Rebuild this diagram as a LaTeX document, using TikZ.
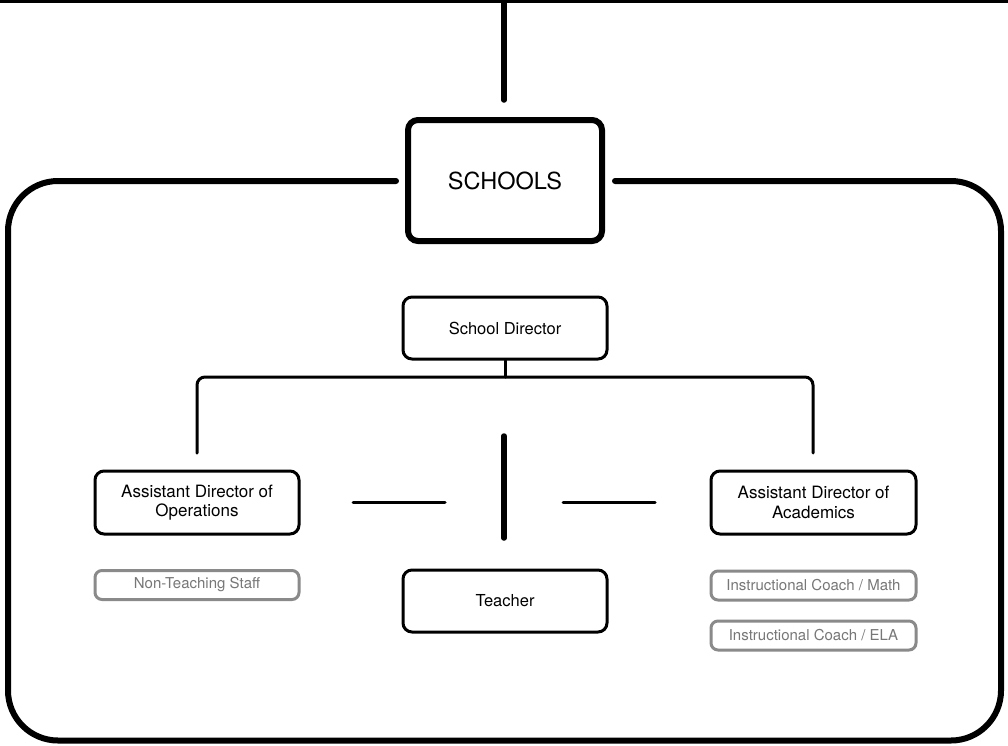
\documentclass[tikz,border=0pt]{standalone}
\usepackage{fontspec}
\setmainfont{TeX Gyre Heros}
\usetikzlibrary{positioning}
\definecolor{staffgray}{HTML}{8A8A8A}
\definecolor{stafftext}{HTML}{777777}

\begin{document}
\begin{tikzpicture}[x=1pt,y=-1pt,line cap=round,
  unit/.style={draw,line width=6pt,rounded corners=10pt,minimum width=194pt,minimum height=121pt,inner sep=0pt,font=\fontsize{23.5}{28}\selectfont},
  role/.style={draw,line width=3pt,rounded corners=9pt,minimum width=204pt,minimum height=62pt,inner sep=0pt,align=center,font=\fontsize{16.5}{20}\selectfont},
  twoline/.style={minimum height=63pt,font=\fontsize{17}{19.5}\selectfont},
  staff/.style={draw=staffgray,text=stafftext,line width=3pt,rounded corners=7pt,minimum width=204pt,minimum height=29pt,inner sep=0pt,font=\fontsize{15}{18}\selectfont},
  link/.style={line width=3pt},
  bar/.style={line width=5.5pt}]
  \useasboundingbox (0,0) rectangle (1008,745);
  \fill[white] (0,0) rectangle (1008,745);

  \node[unit] (schools) at (505,180.5) {SCHOOLS};
  \node[role] (director) at (505,328) {School Director};
  \node[role,twoline] (opsdir) at (197,502.5) {Assistant Director of\\Operations};
  \node[role,twoline,minimum width=205pt] (acadir) at (813.5,502.5) {Assistant Director of\\Academics};
  \node[role] (teacher) at (505,601) {Teacher};
  \node[staff] (nonteach) at (197,585) {Non-Teaching Staff};
  \node[staff,minimum width=205pt] (coachmath) at (813.5,585.5) {Instructional Coach / Math};
  \node[staff,minimum width=205pt] (coachela) at (813.5,635.5) {Instructional Coach / ELA};

  % district line and feed into the schools box
  \coordinate (rowleft) at (-10,0);
  \coordinate (rowright) at (1018,0);
  \coordinate (feedtop) at (504,0);
  \coordinate (feedend) at (504,100);
  \draw[line width=6pt] (rowleft) -- (rowright);
  \draw[bar] (feedtop) -- (feedend);

  % frame round the school
  \coordinate (gapleft) at (396,181);
  \coordinate (gapright) at (615,181);
  \draw[line width=6pt,rounded corners=50pt] (gapleft) -- (8,181) -- (8,740.5) -- (1001,740.5) -- (1001,181) -- (gapright);

  % director to both assistants
  \coordinate (opsin) at (197,453);
  \coordinate (acain) at (813,453);
  \draw[link] (director.south) -- ++(0,16.5) coordinate (split);
  \draw[link,rounded corners=8pt] (opsin) |- (split) -| (acain);

  % cross above the teacher
  \coordinate (crosstop) at (504,436);
  \coordinate (crossbot) at (504,538);
  \coordinate (leftin) at (353,502.7);
  \coordinate (leftout) at (445,502.7);
  \coordinate (rightin) at (563,502.7);
  \coordinate (rightout) at (655,502.7);
  \draw[bar] (crosstop) -- (crossbot);
  \draw[link] (leftin) -- (leftout);
  \draw[link] (rightin) -- (rightout);
\end{tikzpicture}
\end{document}
